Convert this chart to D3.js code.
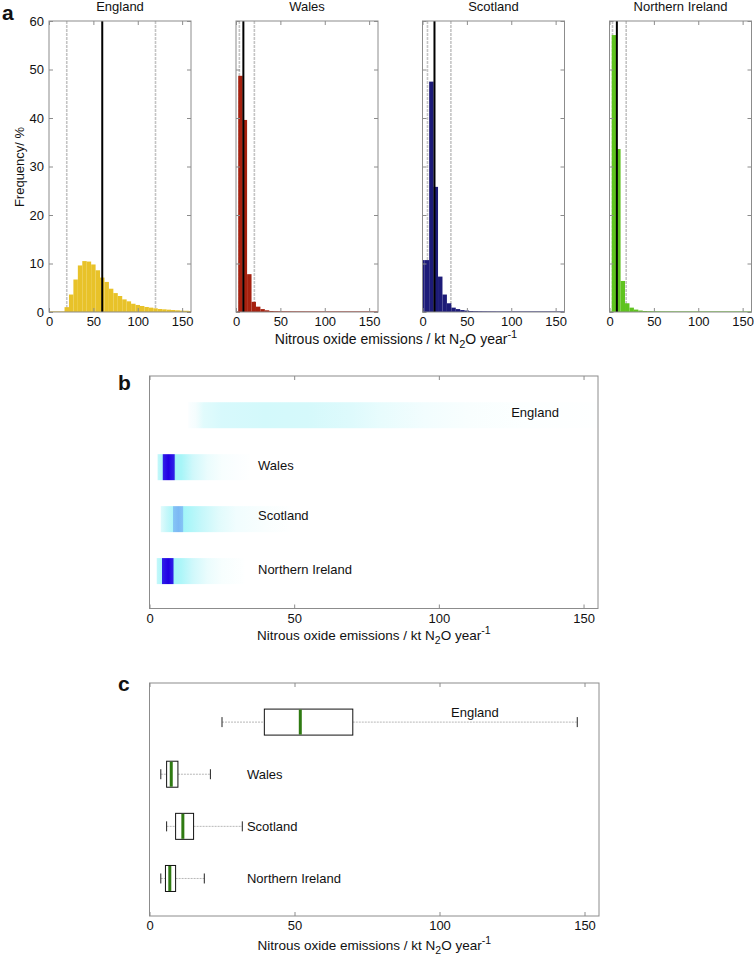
<!DOCTYPE html>
<html><head><meta charset="utf-8">
<script src="https://cdn.jsdelivr.net/npm/d3@7"></script>
<style>
body{margin:0;background:#fff}
text{font-family:"Liberation Sans",Arial,Helvetica,sans-serif;fill:#111}
</style>
</head><body>
<svg id="chart" width="754" height="958"></svg>
<script>
// ---------------- DATA ----------------
const countries = ["England", "Wales", "Scotland", "Northern Ireland"];
const histColors = ["#e8c229", "#a6210f", "#1d1b78", "#5fc31f"];
const binWidth = 5;

const englandCenters = [20,25,30,35,40,45,50,55,60,65,70,75,80,85,90,95,100,105,110,115,120,125,130,135,140,145,150,155,160];
const englandFreq    = [1.0,3.6,6.7,9.6,10.5,10.4,9.8,8.6,7.1,6.2,4.8,3.9,3.3,2.6,2.2,1.7,1.45,1.24,1.03,0.9,0.76,0.62,0.55,0.48,0.41,0.35,0.28,0.25,0.2];

const walesCenters = [5,10,15,20,25,30,35,40,45,50,55,60,65,70,75,80,85,90];
const walesFreq    = [48.7,39.6,7.8,2.1,1.1,0.6,0.35,0.2,0.12,0.08,0.05,0.04,0.03,0.02,0.02,0.01,0.01,0.01];

const scotlandCenters = [0,5,10,15,20,25,30,35,40,45,50,55,60,65,70,75,80];
const scotlandFreq    = [10.7,10.7,47.5,25.8,7.3,3.6,1.8,0.9,0.6,0.4,0.3,0.2,0.12,0.08,0.05,0.03,0.02];

const niCenters = [5,10,15,20,25,30,35,40,45,50,55,60,65,70];
const niFreq    = [57.1,33.6,6.4,1.8,0.9,0.5,0.3,0.2,0.12,0.08,0.05,0.03,0.02,0.01];

// percentile (grey) and central (black) reference lines, kt N2O / year
const lowLine  = [20, 3.8, 5.6, 3.4];
const midLine  = [60, 8.3, 13.5, 8.3];
const highLine = [120, 20.7, 32, 18.8];

// panel b: density colour strips  [emission value, intensity 0..1]
const englandStrip  = [[13.4,0.03],[16,0.08],[18.7,0.2],[25,0.26],[40,0.28],[55,0.27],[70,0.22],[80,0.16],[95,0.09],[110,0.05],[130,0.02],[155,0.01]];
const walesStrip    = [[2.8,0.35],[4.4,0.45],[4.8,0.95],[6.5,1],[8.5,0.95],[9.0,0.5],[11,0.48],[15,0.3],[20,0.15],[25,0.06],[30,0.03],[34.8,0.01]];
const scotlandStrip = [[3.9,0.2],[6,0.35],[8,0.45],[8.3,0.66],[10,0.7],[11.5,0.66],[11.8,0.5],[14,0.45],[18,0.35],[24,0.2],[30,0.1],[40,0.04],[48.7,0.01]];
const niStrip       = [[2.5,0.35],[4.2,0.45],[4.4,0.95],[6.5,1],[8.2,0.95],[8.4,0.5],[11,0.45],[15,0.3],[20,0.15],[25,0.06],[32.8,0.01]];

// panel c: box plot statistics
const whiskerLow  = [25, 3.9, 5.9, 3.9];
const quartile1   = [39.6, 5.9, 9.0, 5.5];
const medians     = [52, 7.5, 11.5, 7.0];
const quartile3   = [70.1, 9.8, 15.2, 9.0];
const whiskerHigh = [147.5, 21, 32, 18.9];

const histXTicks = [0, 50, 100, 150];
const histYTicks = [0, 10, 20, 30, 40, 50, 60];
const bcXTicks = [0, 50, 100, 150];

// ---------------- DRAW ----------------
const svg = d3.select("#chart");
const defs = svg.append("defs");
const frameColor = "#8c8c8c";

function xLabel(g, x, y, size) {
  const t = g.append("text").attr("x", x).attr("y", y).attr("text-anchor", "middle").style("font-size", size + "px");
  t.append("tspan").text("Nitrous oxide emissions / kt N");
  t.append("tspan").attr("dy", 4).style("font-size", (size - 3) + "px").text("2");
  t.append("tspan").attr("dy", -4).text("O year");
  t.append("tspan").attr("dy", -6).style("font-size", (size - 3) + "px").text("-1");
}

// ---- panel a ----
const histData = [
  [englandCenters, englandFreq],
  [walesCenters, walesFreq],
  [scotlandCenters, scotlandFreq],
  [niCenters, niFreq]
];
const panelLeft = [49, 236, 422.5, 609.5];
const pw = 142, pTop = 21, pBot = 312;
const y = d3.scaleLinear().domain([0, 60]).range([pBot, pTop]);

svg.append("text").attr("x", 2).attr("y", 20).style("font-size", "21px").style("font-weight", "bold").text("a");

countries.forEach((c, i) => {
  const x = d3.scaleLinear().domain([0, 160]).range([panelLeft[i], panelLeft[i] + pw]);
  const g = svg.append("g");
  const clipId = "clipA" + i;
  defs.append("clipPath").attr("id", clipId).append("rect")
    .attr("x", panelLeft[i]).attr("y", pTop).attr("width", pw).attr("height", pBot - pTop);
  const inner = g.append("g").attr("clip-path", `url(#${clipId})`);

  // grey percentile lines
  [lowLine[i], highLine[i]].forEach(v => {
    inner.append("line").attr("x1", x(v)).attr("x2", x(v)).attr("y1", pTop).attr("y2", pBot)
      .attr("stroke", "#c4c4c4").attr("stroke-width", 1.6).attr("stroke-dasharray", "3,1");
  });
  // bars
  const [centers, freq] = histData[i];
  const bars = centers.map((cc, k) => ({c: cc, f: freq[k]}));
  inner.selectAll("rect.bar").data(bars).join("rect").attr("class", "bar")
    .attr("x", d => x(d.c - binWidth / 2))
    .attr("width", d => x(d.c + binWidth / 2) - x(d.c - binWidth / 2))
    .attr("y", d => y(d.f))
    .attr("height", d => y(0) - y(d.f))
    .attr("fill", histColors[i]);
  // baseline
  inner.append("line").attr("x1", x(0)).attr("x2", x(160)).attr("y1", y(0) - 0.5).attr("y2", y(0) - 0.5)
    .attr("stroke", histColors[i]).attr("stroke-width", 1).attr("opacity", 0.6);
  // black central line
  inner.append("line").attr("x1", x(midLine[i])).attr("x2", x(midLine[i])).attr("y1", pTop).attr("y2", pBot)
    .attr("stroke", "#000").attr("stroke-width", 2);

  // axes ticks (inward)
  const ab = g.append("g").attr("transform", `translate(0,${pBot})`)
    .call(d3.axisBottom(x).tickValues(histXTicks).tickSizeInner(-4).tickSizeOuter(0).tickPadding(5));
  ab.select(".domain").remove();
  ab.selectAll("line").attr("stroke", frameColor);
  ab.selectAll("text").style("font-size", "13px").attr("fill", "#111");
  const at = g.append("g").attr("transform", `translate(0,${pTop})`)
    .call(d3.axisTop(x).tickValues(histXTicks).tickSizeInner(-4).tickSizeOuter(0).tickFormat(""));
  at.select(".domain").remove();
  at.selectAll("line").attr("stroke", frameColor);
  const al = g.append("g").attr("transform", `translate(${panelLeft[i]},0)`)
    .call(d3.axisLeft(y).tickValues(histYTicks).tickSizeInner(-4).tickSizeOuter(0).tickPadding(5)
      .tickFormat(i === 0 ? d3.format("d") : ""));
  al.select(".domain").remove();
  al.selectAll("line").attr("stroke", frameColor);
  al.selectAll("text").style("font-size", "13px").attr("fill", "#111");
  const ar = g.append("g").attr("transform", `translate(${panelLeft[i] + pw},0)`)
    .call(d3.axisRight(y).tickValues(histYTicks).tickSizeInner(-4).tickSizeOuter(0).tickFormat(""));
  ar.select(".domain").remove();
  ar.selectAll("line").attr("stroke", frameColor);

  g.append("rect").attr("x", panelLeft[i]).attr("y", pTop).attr("width", pw).attr("height", pBot - pTop)
    .attr("fill", "none").attr("stroke", frameColor).attr("stroke-width", 1);

  g.append("text").attr("x", panelLeft[i] + pw / 2).attr("y", 11).attr("text-anchor", "middle")
    .style("font-size", "13px").text(c);
});

svg.append("text").attr("transform", "translate(24,167) rotate(-90)").attr("text-anchor", "middle")
  .style("font-size", "13px").text("Frequency/ %");
xLabel(svg, 396, 344, 14);

// ---- panel b ----
const bLeft = 149.5, bRight = 598, bTop = 376, bBot = 608.5;
const xb = d3.scaleLinear().domain([0, 155]).range([bLeft, bRight]);
const yb = d3.scaleLinear().domain([0.245, 4.72]).range([bTop, bBot]);
const rowH = 26;
const strips = [englandStrip, walesStrip, scotlandStrip, niStrip];
const cmap = d3.scaleLinear().domain([0, 0.15, 0.3, 0.5, 0.7, 1])
  .range(["#ffffff", "#eafcfd", "#d0f8fb", "#a2f5f8", "#7cb8f4", "#2000e4"]);

svg.append("text").attr("x", 118).attr("y", 390).style("font-size", "21px").style("font-weight", "bold").text("b");

strips.forEach((s, i) => {
  const x0 = s[0][0], x1 = s[s.length - 1][0];
  const gid = "grad" + i;
  const grad = defs.append("linearGradient").attr("id", gid).attr("gradientUnits", "userSpaceOnUse")
    .attr("x1", xb(x0)).attr("x2", xb(x1)).attr("y1", 0).attr("y2", 0);
  s.forEach(([v, k]) => grad.append("stop").attr("offset", (v - x0) / (x1 - x0)).attr("stop-color", cmap(k)));
  svg.append("rect").attr("x", xb(x0)).attr("width", xb(x1) - xb(x0))
    .attr("y", yb(i + 1) - rowH / 2).attr("height", rowH).attr("fill", `url(#${gid})`);
});
const bLabelX = [125, 37.5, 37.5, 37.5];
const bLabelDy = [1.5, 2.5, 1, 3];
countries.forEach((c, i) => {
  svg.append("text").attr("x", xb(bLabelX[i])).attr("y", yb(i + 1) + bLabelDy[i]).style("font-size", "13px").text(c);
});
function bcAxes(left, right, top, bot, xs, labelY) {
  const ab = svg.append("g").attr("transform", `translate(0,${bot})`)
    .call(d3.axisBottom(xs).tickValues(bcXTicks).tickSizeInner(-4).tickSizeOuter(0).tickPadding(5));
  ab.select(".domain").remove();
  ab.selectAll("line").attr("stroke", frameColor);
  ab.selectAll("text").style("font-size", "13px").attr("fill", "#111");
  const at = svg.append("g").attr("transform", `translate(0,${top})`)
    .call(d3.axisTop(xs).tickValues(bcXTicks).tickSizeInner(-4).tickSizeOuter(0).tickFormat(""));
  at.select(".domain").remove();
  at.selectAll("line").attr("stroke", frameColor);
  svg.append("rect").attr("x", left).attr("y", top).attr("width", right - left).attr("height", bot - top)
    .attr("fill", "none").attr("stroke", frameColor);
  xLabel(svg, (left + right) / 2, labelY, 13.5);
}
bcAxes(bLeft, bRight, bTop, bBot, xb, 640);

// ---- panel c ----
const cLeft = 149.5, cRight = 599, cTop = 683, cBot = 916;
const xc = d3.scaleLinear().domain([0, 155]).range([cLeft, cRight]);
const yc = d3.scaleLinear().domain([0.25, 4.72]).range([cTop, cBot]);
svg.append("text").attr("x", 118).attr("y", 691).style("font-size", "21px").style("font-weight", "bold").text("c");

countries.forEach((c, i) => {
  const cy = yc(i + 1);
  const g = svg.append("g");
  g.append("line").attr("x1", xc(whiskerLow[i])).attr("x2", xc(quartile1[i])).attr("y1", cy).attr("y2", cy)
    .attr("stroke", "#b8b8b8").attr("stroke-dasharray", "2,1");
  g.append("line").attr("x1", xc(quartile3[i])).attr("x2", xc(whiskerHigh[i])).attr("y1", cy).attr("y2", cy)
    .attr("stroke", "#b8b8b8").attr("stroke-dasharray", "2,1");
  [whiskerLow[i], whiskerHigh[i]].forEach(v => {
    g.append("line").attr("x1", xc(v)).attr("x2", xc(v)).attr("y1", cy - 5).attr("y2", cy + 5)
      .attr("stroke", "#222").attr("stroke-width", 1);
  });
  g.append("rect").attr("x", xc(quartile1[i])).attr("width", xc(quartile3[i]) - xc(quartile1[i]))
    .attr("y", cy - 13).attr("height", 26).attr("fill", "#fff").attr("stroke", "#111").attr("stroke-width", 1);
  g.append("line").attr("x1", xc(medians[i])).attr("x2", xc(medians[i])).attr("y1", cy - 12.5).attr("y2", cy + 12.5)
    .attr("stroke", "#2f7a12").attr("stroke-width", 3);
});
const cLabelX = [104, 33.6, 33.6, 33.6];
const cLabelDy = [-5, 4.5, 4.5, 4.8];
countries.forEach((c, i) => {
  svg.append("text").attr("x", xc(cLabelX[i])).attr("y", yc(i + 1) + cLabelDy[i]).style("font-size", "13px").text(c);
});
bcAxes(cLeft, cRight, cTop, cBot, xc, 950);
</script>
</body></html>
